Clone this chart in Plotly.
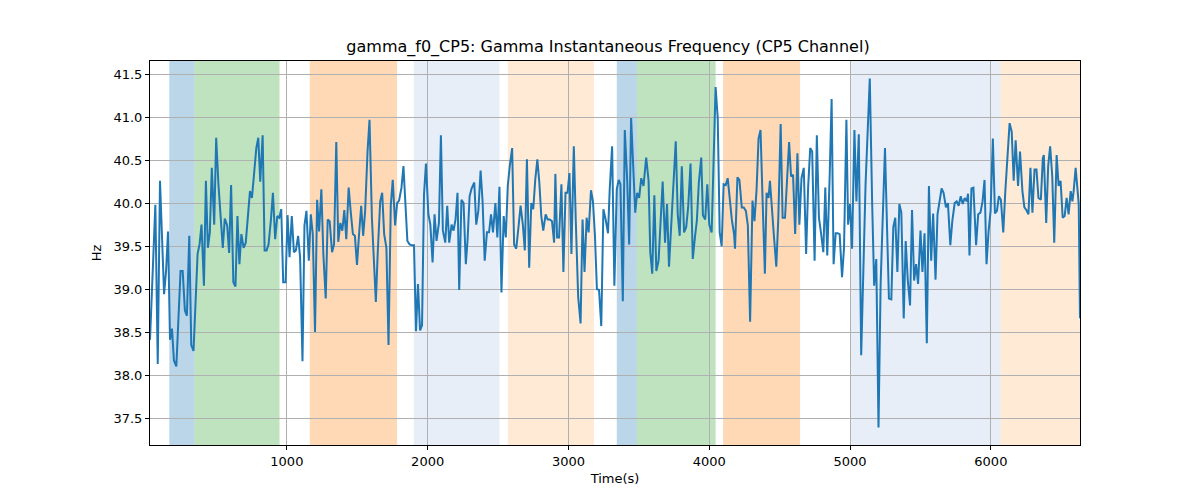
import plotly.graph_objects as go

time_s = [28, 66, 83, 99, 128, 142, 156, 170, 184, 198, 215, 245, 260, 276, 290, 307, 321, 337, 366, 380,
          394, 411, 425, 439, 453, 467, 484, 498, 514, 531, 545, 559, 576, 590, 604, 620, 635, 649, 663, 677,
          693, 708, 722, 738, 752, 767, 783, 797, 811, 828, 842, 856, 870, 887, 901, 917, 932, 946, 960, 974,
          991, 1005, 1019, 1035, 1050, 1064, 1080, 1094, 1111, 1125, 1139, 1156, 1170, 1184, 1200, 1215, 1229, 1245, 1259, 1276,
          1290, 1304, 1321, 1335, 1351, 1365, 1380, 1394, 1408, 1422, 1439, 1453, 1469, 1483, 1498, 1512, 1528, 1542, 1556, 1573,
          1587, 1604, 1618, 1632, 1646, 1663, 1677, 1691, 1707, 1722, 1738, 1752, 1769, 1783, 1797, 1814, 1828, 1842, 1856, 1872,
          1887, 1903, 1917, 1931, 1946, 1960, 1974, 1988, 2005, 2019, 2035, 2049, 2063, 2080, 2094, 2108, 2125, 2139, 2153, 2170,
          2184, 2198, 2212,
          2224, 2240, 2255, 2271, 2283, 2298, 2312, 2331, 2345, 2360, 2376, 2390, 2405, 2421, 2436, 2450, 2464, 2481, 2495, 2510,
          2524, 2540, 2555, 2569, 2583, 2600, 2614, 2629, 2645, 2660, 2676, 2690, 2705, 2721, 2736, 2750, 2764, 2779, 2793, 2807,
          2821, 2838, 2852, 2867, 2883, 2898, 2907, 2919, 2933, 2950, 2964, 2979, 2993, 3007, 3021, 3038, 3052, 3069, 3086, 3100,
          3114, 3129, 3143, 3160, 3174, 3188, 3202, 3217, 3233, 3248, 3264, 3281, 3293, 3310, 3326, 3343, 3357, 3369, 3386, 3400,
          3417, 3431, 3445, 3460, 3474, 3488, 3502, 3517, 3533, 3552, 3569, 3581, 3595, 3610, 3624, 3640, 3655, 3669, 3686, 3700,
          3714, 3731, 3745, 3762, 3776, 3790, 3805, 3821, 3836, 3850, 3867, 3883, 3898, 3912, 3926, 3943, 3955, 3971, 3986, 4000,
          4017, 4031, 4045, 4060, 4074, 4088, 4102, 4117, 4131, 4145, 4160, 4176, 4183, 4200, 4214, 4231, 4245, 4260, 4274, 4290,
          4307, 4321, 4336, 4350, 4364, 4379, 4395, 4407, 4421,
          4431, 4445, 4460, 4476, 4490, 4507, 4521, 4538, 4552, 4567, 4581, 4595, 4610, 4626, 4640, 4655, 4671, 4688, 4702, 4717,
          4731, 4748, 4764, 4779, 4793, 4810, 4824, 4838, 4855, 4869, 4883, 4898, 4912, 4926, 4943, 4957, 4974, 4986, 5000, 5014,
          5031, 5045, 5062, 5079, 5110, 5140, 5157, 5171, 5186, 5202, 5217, 5231, 5248, 5262, 5276, 5293, 5307, 5321, 5336, 5350,
          5364, 5381, 5395, 5410, 5426, 5440, 5455, 5469, 5483, 5500, 5514, 5529, 5545, 5560, 5576, 5590, 5607, 5621, 5636, 5650,
          5664, 5681, 5695, 5712, 5726, 5743, 5757, 5771, 5786, 5800, 5814, 5829, 5838, 5848, 5862, 5876, 5895, 5910, 5926, 5941,
          5955, 5969, 5983, 5998, 6014, 6029, 6043, 6057, 6071, 6088, 6102, 6119, 6133, 6148, 6162, 6176, 6193, 6207, 6224, 6238,
          6252, 6267, 6281, 6295, 6310, 6324, 6338, 6355, 6369, 6376, 6393, 6407, 6421, 6436, 6450, 6467, 6481, 6495, 6510, 6524,
          6538, 6552, 6567, 6579, 6588, 6602, 6614, 6624, 6633]

freq_hz = [38.41, 39.98, 38.13, 40.26, 38.94, 39.21, 39.67, 38.41, 38.54, 38.17, 38.10, 39.21, 39.21, 38.75, 38.69, 39.62, 38.35, 38.28, 39.41, 39.52,
           39.75, 39.04, 40.26, 39.48, 39.66, 40.41, 39.75, 40.76, 40.22, 39.79, 39.48, 39.82, 39.74, 39.42, 40.21, 39.08, 39.03, 39.85, 39.29, 39.64,
           39.48, 39.54, 39.79, 40.14, 40.06, 40.37, 40.64, 40.76, 40.25, 40.79, 39.45, 39.45, 39.52, 39.81, 40.12, 39.58, 39.85, 39.83, 39.93, 39.08,
           39.08, 39.86, 39.37, 39.85, 39.43, 39.45, 39.62, 39.37, 38.16, 39.74, 39.91, 39.33, 39.87, 39.64, 38.50, 40.04, 39.67, 40.16, 39.41, 38.89,
           39.81, 39.79, 39.43, 39.52, 40.71, 39.55, 39.77, 39.68, 39.92, 39.58, 40.18, 39.91, 39.64, 39.62, 39.28, 39.62, 39.97, 39.62, 39.91, 40.60,
           40.97, 39.83, 39.25, 38.85, 39.45, 40.02, 40.12, 39.64, 39.48, 38.35, 39.97, 40.27, 39.74, 40.00, 40.03, 40.18, 40.43, 39.95, 39.56, 39.52,
           39.51, 39.51, 38.51, 39.06, 38.52, 38.58, 40.10, 40.46, 39.87, 39.75, 39.31, 39.87, 39.56, 39.77, 40.79, 39.68, 39.54, 39.97, 39.54, 39.75,
           39.68, 39.81, 40.12,
           38.99, 40.04, 40.00, 39.29, 39.56, 40.08, 40.17, 40.24, 39.75, 39.91, 40.38, 40.02, 39.33, 39.66, 39.66, 39.87, 39.66, 40.00, 39.60, 40.19,
           38.96, 39.85, 39.60, 40.20, 40.43, 40.64, 39.52, 39.47, 39.72, 39.97, 39.75, 39.45, 40.51, 39.25, 40.00, 39.93, 40.27, 40.51, 40.24, 39.85,
           39.68, 39.87, 39.81, 39.81, 39.79, 39.54, 40.34, 39.60, 39.60, 40.22, 39.20, 40.12, 40.12, 40.35, 39.41, 40.66, 39.79, 38.91, 38.60, 39.81,
           39.20, 39.83, 39.66, 40.15, 40.02, 39.62, 39.00, 38.99, 38.57, 39.93, 39.81, 39.65, 40.16, 40.66, 39.04, 40.16, 40.27, 40.22, 38.86, 40.85,
           40.27, 39.52, 40.99, 40.41, 39.89, 40.12, 40.06, 40.29, 40.20, 40.53, 40.26, 39.43, 39.18, 40.09, 39.21, 39.33, 39.79, 40.25, 39.54, 39.99,
           39.26, 39.79, 40.14, 40.72, 39.87, 39.62, 40.43, 39.66, 39.72, 39.95, 40.46, 39.35, 39.60, 39.80, 40.24, 40.53, 39.86, 39.81, 40.22, 39.75,
           39.66, 40.60, 41.35, 40.99, 39.66, 39.50, 40.22, 40.21, 40.29, 40.06, 39.81, 39.64, 39.47, 40.30, 40.27, 39.95, 39.95, 39.91, 39.74, 38.62,
           40.03, 39.79, 40.16, 40.75, 40.85, 40.02, 39.18, 40.12, 40.06,
           40.26, 39.99, 39.60, 39.26, 39.81, 40.92, 39.83, 39.83, 40.22, 40.71, 40.31, 40.33, 39.64, 40.58, 39.75, 40.29, 40.41, 39.41, 40.18, 40.64,
           40.60, 39.33, 40.79, 39.83, 39.66, 39.43, 40.18, 39.39, 40.31, 41.21, 39.29, 39.65, 39.65, 39.64, 39.14, 39.48, 40.97, 39.75, 39.99, 39.47,
           40.85, 40.02, 40.80, 38.23, 40.22, 41.45, 39.99, 39.04, 39.35, 37.39, 39.06, 39.75, 40.64, 39.75, 38.89, 38.88, 39.72, 39.83, 39.20, 39.99,
           39.89, 38.66, 39.56, 39.10, 38.81, 39.92, 39.10, 39.29, 39.06, 39.68, 39.20, 39.65, 38.37, 40.20, 39.33, 39.88, 39.11, 39.87, 40.04, 40.17,
           40.12, 39.95, 40.00, 39.51, 39.79, 40.00, 40.02, 39.97, 40.08, 39.99, 40.06, 40.02, 40.11, 39.39, 40.17, 40.18, 39.51, 39.87, 39.89, 40.02,
           40.27, 39.29, 39.66, 39.91, 40.75, 39.88, 39.91, 40.08, 40.04, 39.66, 40.12, 40.60, 40.93, 40.83, 40.26, 40.73, 40.20, 40.60, 40.14, 39.95,
           39.92, 39.87, 40.41, 39.89, 40.39, 40.39, 40.06, 40.04, 40.52, 40.56, 39.77, 40.43, 40.66, 40.31, 39.54, 40.56, 40.20, 40.26, 39.83, 39.85,
           40.06, 39.87, 40.14, 40.02, 40.14, 40.41, 40.18, 39.99, 38.66]

span_start = [165, 344, 1163, 1901, 2569, 3343, 3486, 4098, 5007, 6069]
span_end = [344, 948, 1783, 2510, 3181, 3486, 4045, 4645, 6069, 6633]
span_color = ["#1f77b4", "#2ca02c", "#ff7f0e", "#aec7e8", "#ffbb78",
              "#1f77b4", "#2ca02c", "#ff7f0e", "#aec7e8", "#ffbb78"]

x_ticks = [1000, 2000, 3000, 4000, 5000, 6000]
y_ticks = [37.5, 38.0, 38.5, 39.0, 39.5, 40.0, 40.5, 41.0, 41.5]

fig = go.Figure()
for s, e, c in zip(span_start, span_end, span_color):
    fig.add_vrect(x0=s, x1=e, fillcolor=c, opacity=0.3, line_width=0, layer="below")

fig.add_trace(go.Scatter(x=time_s, y=freq_hz, mode="lines",
                         line=dict(color="#1f77b4", width=2), showlegend=False))

ymin, ymax = min(freq_hz), max(freq_hz)
pad = (ymax - ymin) * 0.05

axis_common = dict(showline=True, linecolor="black", linewidth=1, mirror=True,
                   ticks="outside", ticklen=4, tickcolor="black",
                   showgrid=True, gridcolor="#b0b0b0", gridwidth=1, zeroline=False,
                   tickfont=dict(family="DejaVu Sans", size=13, color="black"))

fig.update_layout(
    width=1200, height=500,
    margin=dict(l=142, r=128, t=53, b=63),
    paper_bgcolor="white", plot_bgcolor="white",
    title=dict(text="gamma_f0_CP5: Gamma Instantaneous Frequency (CP5 Channel)",
               x=0.5, xanchor="center", y=0.924, yanchor="middle",
               font=dict(family="DejaVu Sans", size=16, color="black")),
    font=dict(family="DejaVu Sans", size=13, color="black"),
)
fig.update_xaxes(range=[min(time_s), max(time_s)], tickvals=x_ticks,
                 title=dict(text="Time(s)", standoff=6, font=dict(size=13)), **axis_common)
fig.update_yaxes(range=[ymin - pad, ymax + pad], tickvals=y_ticks,
                 ticktext=[f"{v:.1f}" for v in y_ticks],
                 title=dict(text="Hz", standoff=8, font=dict(size=13)), **axis_common)

fig.write_html("out.html")
